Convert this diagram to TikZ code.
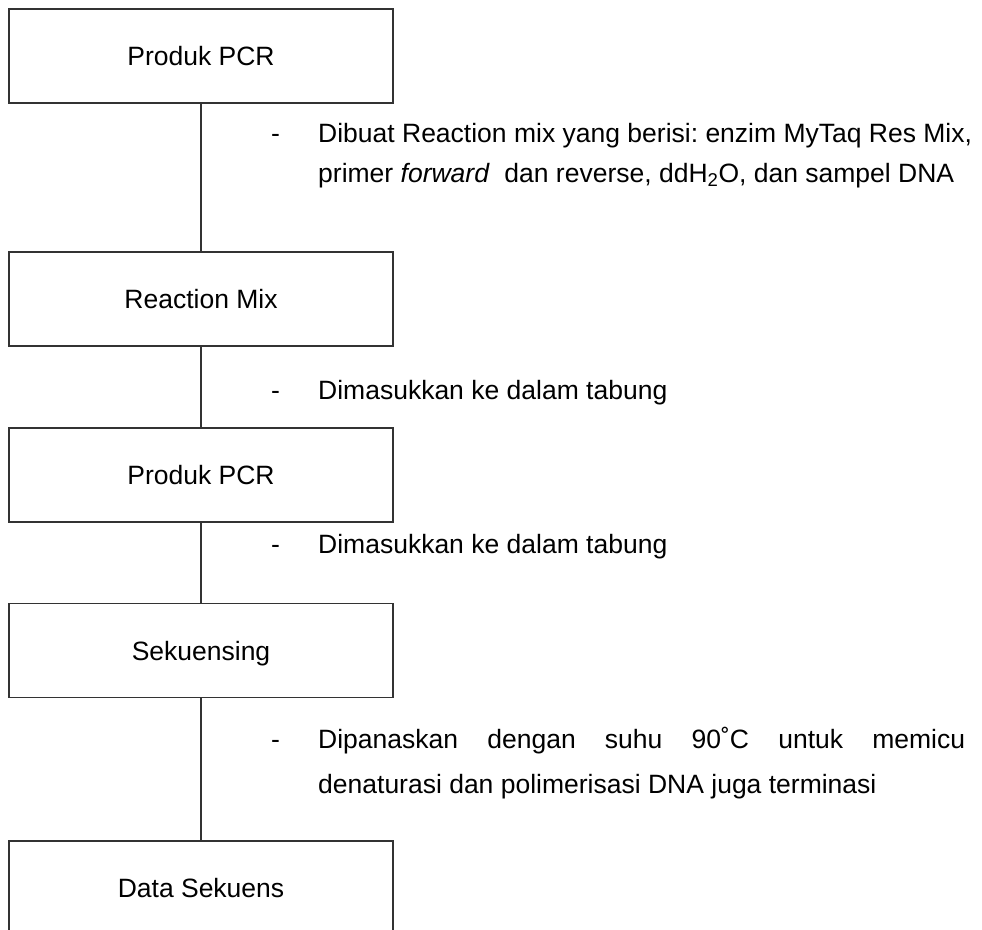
\documentclass[tikz,border=0pt]{standalone}
\usepackage{fontspec}
\setmainfont{Liberation Sans}
\frenchspacing
\begin{document}
\begin{tikzpicture}[x=1pt,y=-1pt,
  box/.style={draw=black!80, line width=1.2pt, minimum width=384pt, minimum height=94pt,
    inner sep=0pt, text height=19pt, text depth=0pt, font=\fontsize{26.5}{40}\selectfont},
  conn/.style={draw=black!80, line width=1.2pt},
  note/.style={anchor=base west, inner sep=0pt, font=\fontsize{26.5}{40}\selectfont\frenchspacing}]
\useasboundingbox (0,0) rectangle (982,929);
\clip (0,0) rectangle (982,929);
% boxes
\node[box] (b1) at (201,56) {Produk PCR};
\node[box] (b2) at (201,299) {Reaction Mix};
\node[box] (b3) at (201,475) {Produk PCR};
\node[box] (b4) at (201,650.5) {Sekuensing};
\node[box] (b5) at (201,888) {Data Sekuens};
% connectors
\draw[conn] (b1.south) -- (b2.north);
\draw[conn] (b2.south) -- (b3.north);
\draw[conn] (b3.south) -- (b4.north);
\draw[conn] (b4.south) -- (b5.north);
% notes
\node[note] (d1) at (271,142) {-};
\node[note] (t1a) at (318,142) {Dibuat Reaction mix yang berisi: enzim MyTaq Res Mix,};
\node[note] (t1b) at (318,182) {primer \textit{forward}\ \ dan reverse, ddH\textsubscript{2}O, dan sampel DNA};
\node[note] (d2) at (271,399) {-};
\node[note] (t2) at (318,399) {Dimasukkan ke dalam tabung};
\node[note] (d3) at (271,553) {-};
\node[note] (t3) at (318,553) {Dimasukkan ke dalam tabung};
\node[note] (d4) at (271,748) {-};
\node[note] (t4a) at (318,748) {\makebox[647pt][s]{Dipanaskan dengan suhu 90˚C untuk memicu}};
\node[note] (t4b) at (318,793) {denaturasi dan polimerisasi DNA juga terminasi};
\end{tikzpicture}
\end{document}
